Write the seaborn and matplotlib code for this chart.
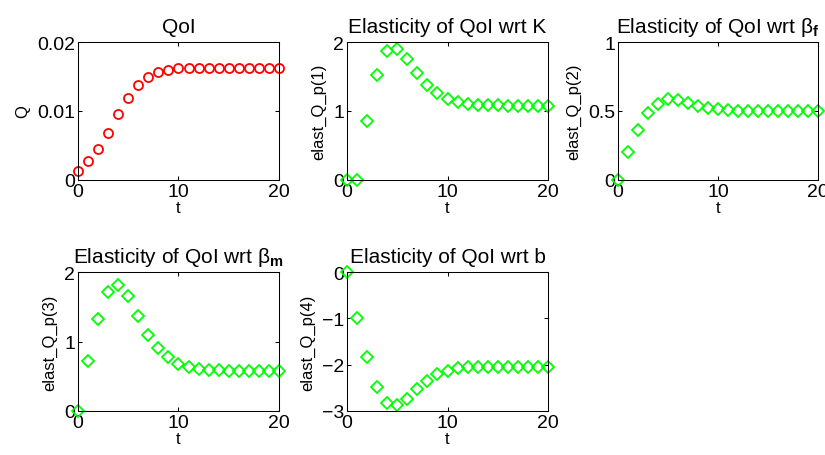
import numpy as np
import seaborn as sns
import matplotlib
matplotlib.use("Agg")
import matplotlib.pyplot as plt

# time steps
t = list(range(21))

# QoI
qoi = [0.00135, 0.00275, 0.0045, 0.00684, 0.0095, 0.0119, 0.01373, 0.0149, 0.01566,
       0.0160, 0.01624, 0.0163, 0.0163, 0.0163, 0.0163, 0.0163, 0.0163, 0.0163,
       0.0163, 0.0163, 0.0163]

# elasticities
elast_K = [0.0, 0.0, 0.858, 1.518, 1.87, 1.90, 1.76, 1.556, 1.383, 1.263, 1.18,
           1.133, 1.108, 1.094, 1.084, 1.08, 1.077, 1.076, 1.075, 1.075, 1.075]
elast_bf = [0.0, 0.2, 0.361, 0.482, 0.554, 0.59, 0.578, 0.559, 0.537, 0.523, 0.513,
            0.506, 0.502, 0.5, 0.5, 0.5, 0.5, 0.5, 0.5, 0.5, 0.5]
elast_bm = [0.0, 0.713, 1.325, 1.71, 1.807, 1.653, 1.373, 1.094, 0.906, 0.78, 0.675,
            0.627, 0.602, 0.593, 0.583, 0.578, 0.576, 0.575, 0.575, 0.575, 0.575]
elast_b = [0.0, -0.998, -1.836, -2.487, -2.834, -2.87, -2.733, -2.516, -2.35, -2.205,
           -2.133, -2.082, -2.06, -2.045, -2.04, -2.04, -2.04, -2.04, -2.04, -2.04, -2.04]

titles = ["QoI", "Elasticity of QoI wrt K",
          r"Elasticity of QoI wrt $\mathrm{\beta}_{\mathbf{f}}$",
          r"Elasticity of QoI wrt $\mathrm{\beta}_{\mathbf{m}}$",
          "Elasticity of QoI wrt b"]
ylabels = ["Q", "elast_Q_p(1)", "elast_Q_p(2)", "elast_Q_p(3)", "elast_Q_p(4)"]
yticks = [[0, 0.01, 0.02], [0, 1, 2], [0, 0.5, 1], [0, 1, 2], [-3, -2, -1, 0]]
yticklabels = [["0", "0.01", "0.02"], ["0", "1", "2"], ["0", "0.5", "1"],
               ["0", "1", "2"], ["\u22123", "\u22122", "\u22121", "0"]]
ylims = [(0, 0.02), (0, 2), (0, 1), (0, 2), (-3, 0)]
series = [qoi, elast_K, elast_bf, elast_bm, elast_b]

sns.set_style("ticks")
plt.rcParams["font.family"] = ["Liberation Sans", "DejaVu Sans"]
plt.rcParams["mathtext.fontset"] = "custom"
plt.rcParams["mathtext.rm"] = "Liberation Sans"
plt.rcParams["mathtext.it"] = "Liberation Sans:italic"
plt.rcParams["mathtext.bf"] = "Liberation Sans:bold"
for k in ["text.color", "axes.labelcolor", "xtick.color", "ytick.color", "axes.edgecolor"]:
    plt.rcParams[k] = "black"

fig = plt.figure(figsize=(8.25, 4.56), dpi=100)
W, H = 825, 456
boxes = [(78, 43, 201, 138), (347, 43, 201, 138), (618, 43, 200, 138),
         (78, 273, 201, 139), (347, 273, 201, 139)]

for i, (x0, y0, w, h) in enumerate(boxes):
    ax = fig.add_axes([x0 / W, 1 - (y0 + h) / H, w / W, h / H])
    if i == 0:
        sns.lineplot(x=t, y=series[i], ax=ax, marker="o", linestyle="", ms=6.5,
                     mfc="none", mec="#ff0000", mew=1.3, clip_on=False)
    else:
        sns.lineplot(x=t, y=series[i], ax=ax, marker="D", linestyle="", ms=6.5,
                     mfc="none", mec="#00ff00", mew=1.3, clip_on=False)
    ax.set_xlim(0, 20)
    ax.set_ylim(*ylims[i])
    ax.set_xticks([0, 10, 20])
    ax.set_yticks(yticks[i])
    ax.set_yticklabels(yticklabels[i])
    ax.tick_params(direction="in", length=3, width=0.75, top=True, right=True,
                   labelsize=14, pad=2, colors="black")
    for s in ax.spines.values():
        s.set_linewidth(0.75)
        s.set_color("black")
        s.set_visible(True)
    ax.set_title(titles[i], fontsize=15, pad=7, color="black")
    ax.set_xlabel("t", fontsize=12, labelpad=0)
    ax.set_ylabel(ylabels[i], fontsize=12, labelpad=5)

fig.savefig("out.png", dpi=100)
